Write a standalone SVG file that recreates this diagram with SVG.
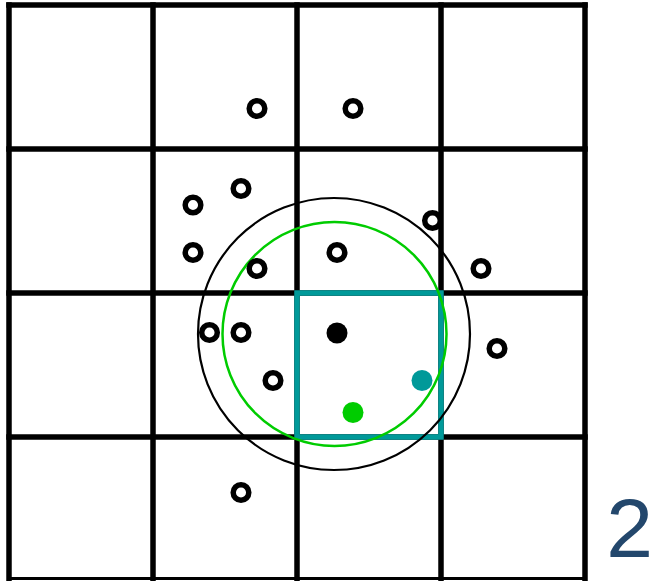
<svg xmlns="http://www.w3.org/2000/svg" width="653" height="581" viewBox="0 0 653 581">
<style>
.grid{stroke:#000;stroke-width:5.5;fill:none;stroke-linecap:square}
.pt{fill:#fff;stroke:#000;stroke-width:5.5}
.lbl{font-family:"Liberation Sans",Arial,sans-serif;font-size:84px;fill:#23476c}
</style>
<rect width="653" height="581" fill="#fff"/>
<g id="grid" class="grid">
<line x1="9" y1="5" x2="9" y2="581"/>
<line x1="153" y1="5" x2="153" y2="581"/>
<line x1="297" y1="5" x2="297" y2="581"/>
<line x1="441" y1="5" x2="441" y2="581"/>
<line x1="585" y1="5" x2="585" y2="581"/>
<line x1="9" y1="5" x2="585" y2="5"/>
<line x1="9" y1="149" x2="585" y2="149"/>
<line x1="9" y1="293" x2="585" y2="293"/>
<line x1="9" y1="437" x2="585" y2="437"/>
<line x1="9" y1="578.5" x2="585" y2="578.5" stroke-width="3" stroke-linecap="butt"/>
</g>
<g id="cell">
<rect x="297" y="293" width="144" height="144" fill="none" stroke="#009999" stroke-width="5.5"/>
</g>
<g id="circles" fill="none">
<circle cx="334" cy="334" r="136" stroke="#000" stroke-width="2.2"/>
<circle cx="334.5" cy="334" r="112" stroke="#00cc00" stroke-width="2.5"/>
</g>
<g id="points">
<circle class="pt" cx="257" cy="108.5" r="7.8"/>
<circle class="pt" cx="353" cy="108.5" r="7.8"/>
<circle class="pt" cx="241" cy="188.5" r="7.8"/>
<circle class="pt" cx="193" cy="205" r="7.8"/>
<circle class="pt" cx="193" cy="252.5" r="7.8"/>
<circle class="pt" cx="257" cy="268.5" r="7.8"/>
<circle class="pt" cx="337" cy="252.5" r="7.8"/>
<circle class="pt" cx="432.5" cy="220.5" r="7.8"/>
<circle class="pt" cx="481" cy="268.5" r="7.8"/>
<circle class="pt" cx="209.5" cy="332.5" r="7.8"/>
<circle class="pt" cx="241" cy="332.5" r="7.8"/>
<circle class="pt" cx="273" cy="380.5" r="7.8"/>
<circle class="pt" cx="497" cy="348.5" r="7.8"/>
<circle class="pt" cx="241" cy="492.5" r="7.8"/>
</g>
<g id="query">
<circle cx="337" cy="333" r="10.5" fill="#000"/>
<circle cx="422" cy="380.5" r="10.5" fill="#009999"/>
<circle cx="353" cy="412.5" r="10.5" fill="#00cc00"/>
</g>
<g id="label">
<text class="lbl" x="653" y="557" text-anchor="end">2</text>
</g>
</svg>
